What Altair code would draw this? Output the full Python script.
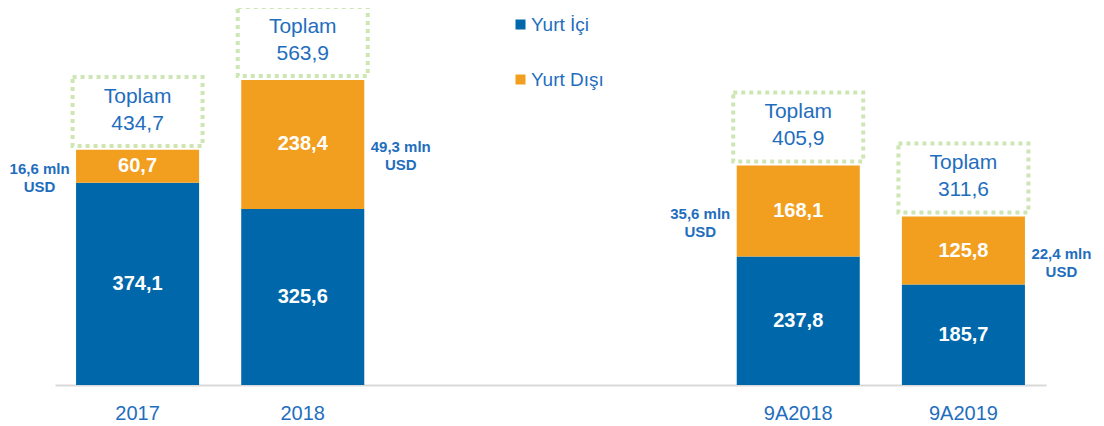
import altair as alt
import pandas as pd

categories = ["2017", "2018", "9A2018", "9A2019"]
domestic = [374.1, 325.6, 237.8, 185.7]
foreign = [60.7, 238.4, 168.1, 125.8]
totals = [434.7, 563.9, 405.9, 311.6]
usd_notes = ["16,6 mln\nUSD", "49,3 mln\nUSD", "35,6 mln\nUSD", "22,4 mln\nUSD"]
note_sides = ["left", "right", "left", "right"]
axis_domain = ["2017", "2018", " ", "  ", "9A2018", "9A2019"]
series = ["Yurt İçi", "Yurt Dışı"]

BLUE = "#0068AA"
ORANGE = "#F29F1F"
GREEN = "#CDE6B4"
TEXT = "#1F6EBE"
FONT = "Liberation Sans"


def fmt(v):
    return f"{v:.1f}".replace(".", ",")


rows = []
for i, c in enumerate(categories):
    rows.append({"cat": c, "series": series[0], "value": domestic[i], "ord": 0, "label": fmt(domestic[i])})
    rows.append({"cat": c, "series": series[1], "value": foreign[i], "ord": 1, "label": fmt(foreign[i])})
seg = pd.DataFrame(rows)

tot = pd.DataFrame({
    "cat": categories,
    "total": totals,
    "tlabel": [fmt(t) for t in totals],
    "note": usd_notes,
    "side": note_sides,
    "fmid": [d + f / 2 for d, f in zip(domestic, foreign)],
})

x_enc = alt.X(
    "cat:N",
    scale=alt.Scale(domain=axis_domain, paddingInner=0.255, paddingOuter=0.1275),
    axis=alt.Axis(title=None, labelAngle=0),
)
y_scale = alt.Scale(domain=[0, 697])

stacked = alt.Chart(seg).transform_stack(
    stack="value", as_=["y0", "y1"], groupby=["cat"], sort=[alt.SortField("ord", order="ascending")]
)

bars = stacked.mark_bar().encode(
    x=x_enc,
    y=alt.Y("y0:Q", scale=y_scale, axis=None),
    y2="y1:Q",
    color=alt.Color(
        "series:N",
        scale=alt.Scale(domain=series, range=[BLUE, ORANGE]),
        legend=alt.Legend(
            title=None,
            orient="none",
            legendX=456,
            legendY=7,
            direction="vertical",
            symbolType="square",
            symbolSize=100,
            symbolStrokeWidth=0,
            labelFontSize=19,
            labelColor=TEXT,
            labelFont=FONT,
            labelOffset=1,
            rowPadding=35,
            padding=0,
        ),
    ),
)

seg_labels = stacked.transform_calculate(mid="(datum.y0 + datum.y1) / 2").mark_text(
    color="white", fontWeight="bold", fontSize=20, font=FONT, baseline="middle"
).encode(
    x=x_enc,
    y=alt.Y("mid:Q", scale=y_scale, axis=None),
    text="label:N",
)

base_tot = alt.Chart(tot)

boxes = base_tot.mark_bar(
    width=130,
    fill="transparent",
    stroke=GREEN,
    strokeWidth=4,
    strokeDash=[4, 4],
    yOffset=-4,
    y2Offset=-73,
).encode(
    x=x_enc,
    y=alt.Y("total:Q", scale=y_scale, axis=None),
    y2="total:Q",
)

toplam = base_tot.mark_text(
    dy=-53, fontSize=21, font=FONT, color=TEXT, baseline="middle"
).encode(
    x=x_enc,
    y=alt.Y("total:Q", scale=y_scale, axis=None),
    text=alt.value("Toplam"),
)

tot_num = base_tot.mark_text(
    dy=-26, fontSize=21, font=FONT, color=TEXT, baseline="middle"
).encode(
    x=x_enc,
    y=alt.Y("total:Q", scale=y_scale, axis=None),
    text="tlabel:N",
)

note_left = base_tot.transform_filter("datum.side == 'left'").mark_text(
    dx=-98, dy=3, fontSize=15, fontWeight="bold", font=FONT, color=TEXT,
    lineBreak="\n", lineHeight=18, baseline="middle", align="center",
).encode(
    x=x_enc,
    y=alt.Y("fmid:Q", scale=y_scale, axis=None),
    text="note:N",
)

note_right = base_tot.transform_filter("datum.side == 'right'").mark_text(
    dx=98, dy=3, fontSize=15, fontWeight="bold", font=FONT, color=TEXT,
    lineBreak="\n", lineHeight=18, baseline="middle", align="center",
).encode(
    x=x_enc,
    y=alt.Y("fmid:Q", scale=y_scale, axis=None),
    text="note:N",
)

chart = alt.layer(
    bars, seg_labels, boxes, toplam, tot_num, note_left, note_right
).properties(
    width=991,
    height=377,
    padding={"left": 47, "top": 0, "right": 50, "bottom": 40},
    autosize=alt.AutoSizeParams(type="none"),
).configure_view(
    stroke=None
).configure_axis(
    domainColor="#D9D9D9",
    domainWidth=2,
    ticks=False,
    labelFontSize=20,
    labelColor=TEXT,
    labelFont=FONT,
    labelPadding=18,
    grid=False,
)

chart.save("out.html", embed_options={"renderer": "svg", "actions": False})
